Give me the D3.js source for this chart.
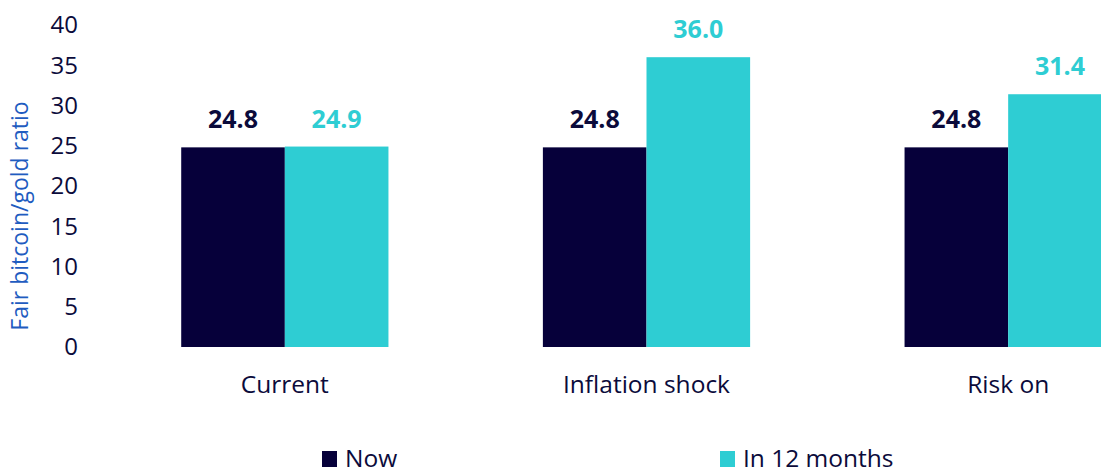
<!DOCTYPE html>
<html>
<head>
<meta charset="utf-8">
<script src="https://cdn.jsdelivr.net/npm/d3@7"></script>
<style>
  body { margin: 0; background: #fff; }
  svg { display: block; font-family: "Open Sans", "Noto Sans", sans-serif; }
</style>
</head>
<body>
<div class="container"></div>
<script>
// data
const categories = ['Current', 'Inflation shock', 'Risk on']
const seriesNames = ['Now', 'In 12 months']
const nowValues = [24.8, 24.8, 24.8]
const in12Values = [24.9, 36.0, 31.4]
const yTicks = [0, 5, 10, 15, 20, 25, 30, 35, 40]

const colors = ['#06003a', '#2ecdd3']
const textColor = '#0b0b3b'

const width = 1101, height = 473

const svg = d3.select('.container').append('svg')
    .attr('width', width).attr('height', height)

// plot area runs off the right edge in the original
const x = d3.scaleBand()
    .domain(categories)
    .range([104, 1189])
    .paddingInner(0.427)
    .paddingOuter(0.2135)

const xSub = d3.scaleBand()
    .domain(seriesNames)
    .range([0, x.bandwidth()])

const y = d3.scaleLinear()
    .domain([0, 40])
    .range([347, 25])

// y axis: labels only
svg.append('g')
    .selectAll('text')
    .data(yTicks)
    .enter().append('text')
        .attr('x', 78)
        .attr('y', d => y(d))
        .attr('dy', '0.35em')
        .attr('text-anchor', 'end')
        .attr('font-size', 24)
        .attr('fill', textColor)
        .text(d => d)

svg.append('text')
    .attr('transform', 'translate(28,' + 216 + ') rotate(-90)')
    .attr('text-anchor', 'middle')
    .attr('font-size', 23)
    .attr('fill', '#1f5cc0')
    .text('Fair bitcoin/gold ratio')

const rows = categories.map((c, i) => ({
    cat: c,
    vals: [
        {name: seriesNames[0], v: nowValues[i], color: colors[0]},
        {name: seriesNames[1], v: in12Values[i], color: colors[1]}
    ]
}))

const group = svg.append('g')
    .selectAll('g')
    .data(rows)
    .enter().append('g')
        .attr('transform', d => 'translate(' + x(d.cat) + ',0)')

group.selectAll('rect')
    .data(d => d.vals)
    .enter().append('rect')
        .attr('x', d => xSub(d.name))
        .attr('y', d => y(d.v))
        .attr('width', xSub.bandwidth())
        .attr('height', d => y(0) - y(d.v))
        .attr('fill', d => d.color)

group.selectAll('text.val')
    .data(d => d.vals)
    .enter().append('text')
        .attr('class', 'val')
        .attr('x', d => xSub(d.name) + xSub.bandwidth() / 2)
        .attr('y', d => y(d.v) - 19)
        .attr('text-anchor', 'middle')
        .attr('font-size', 25)
        .attr('font-weight', 'bold')
        .attr('fill', d => d.name === 'Now' ? textColor : colors[1])
        .text(d => d.v.toFixed(1))

// category labels
svg.append('g')
    .selectAll('text')
    .data(categories)
    .enter().append('text')
        .attr('x', d => x(d) + x.bandwidth() / 2)
        .attr('y', 393)
        .attr('text-anchor', 'middle')
        .attr('font-size', 24.5)
        .attr('fill', textColor)
        .text(d => d)

// legend
const legendX = [322, 720]
const legend = svg.append('g')
    .selectAll('g')
    .data(seriesNames)
    .enter().append('g')
        .attr('transform', (d, i) => 'translate(' + legendX[i] + ',451)')

legend.append('rect')
    .attr('width', 15).attr('height', 16)
    .attr('fill', (d, i) => colors[i])

legend.append('text')
    .attr('x', 23)
    .attr('y', 16)
    .attr('font-size', 24.5)
    .attr('fill', textColor)
    .text(d => d)
</script>
</body>
</html>
